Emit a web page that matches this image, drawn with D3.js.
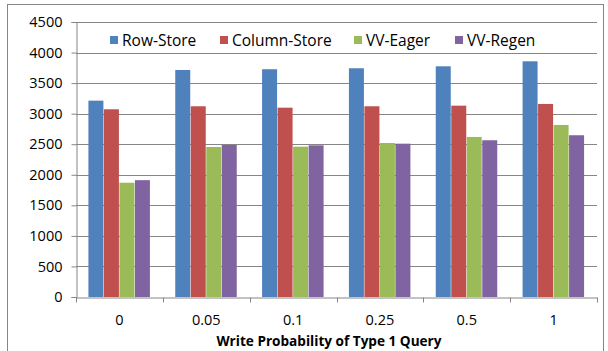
<!DOCTYPE html>
<html>
<head>
<meta charset="utf-8">
<script src="https://d3js.org/d3.v7.min.js"></script>
<style>
  body { margin: 0; background: #fff; }
  text { font-family: "Open Sans", "Liberation Sans", sans-serif; fill: #000; }
</style>
</head>
<body>
<div id="chart"></div>
<script>
const width = 608;
const height = 351;

// data
const categories = ["0", "0.05", "0.1", "0.25", "0.5", "1"];
const seriesNames = ["Row-Store", "Column-Store", "VV-Eager", "VV-Regen"];
const rowStore = [3213, 3715, 3727, 3743, 3775, 3857];
const columnStore = [3072, 3121, 3098, 3121, 3131, 3159];
const vvEager = [1870, 2455, 2460, 2520, 2619, 2815];
const vvRegen = [1912, 2488, 2482, 2509, 2565, 2647];
const yTicks = [0, 500, 1000, 1500, 2000, 2500, 3000, 3500, 4000, 4500];
const colors = ["#4F81BD", "#C0504D", "#9BBB59", "#8064A2"];

const seriesVals = [rowStore, columnStore, vvEager, vvRegen];

const plot = {left: 76, right: 597, top: 22, bottom: 297};

var svg = d3.select("#chart").append("svg")
  .attr("width", width)
  .attr("height", height);

// outer border
svg.append("rect")
  .attr("x", 7.5).attr("y", 4.5)
  .attr("width", 596).attr("height", 350)
  .attr("fill", "none")
  .attr("stroke", "#868686");

var x0 = d3.scaleBand().domain(categories).range([plot.left, plot.right]);
var x1 = d3.scaleBand().domain(seriesNames)
  .range([x0.bandwidth() * 0.143, x0.bandwidth() * 0.857]);
var y = d3.scaleLinear().domain([0, 4500]).range([plot.bottom, plot.top]);

// gridlines
svg.append("g").selectAll("line")
  .data(yTicks.filter(t => t > 0))
  .enter().append("line")
  .attr("x1", plot.left).attr("x2", plot.right)
  .attr("y1", d => Math.round(y(d)) + 0.5)
  .attr("y2", d => Math.round(y(d)) + 0.5)
  .attr("stroke", "#868686");

// bars
var groups = svg.append("g").selectAll("g")
  .data(categories)
  .enter().append("g")
  .attr("transform", d => "translate(" + x0(d) + ",0)");

groups.selectAll("rect")
  .data((d, i) => seriesNames.map((s, j) => ({s: s, v: seriesVals[j][i], c: colors[j]})))
  .enter().append("rect")
  .attr("x", d => x1(d.s))
  .attr("y", d => y(d.v))
  .attr("width", x1.bandwidth() - 0.5)
  .attr("height", d => y(0) - y(d.v))
  .attr("fill", d => d.c);

// y axis
var yAxis = d3.axisLeft(y).tickValues(yTicks).tickFormat(d3.format("d"))
  .tickSize(5).tickPadding(9);
var gy = svg.append("g")
  .attr("transform", "translate(" + (plot.left + 0.5) + ",0)")
  .call(yAxis);
gy.selectAll("text").style("font-size", "14.5px");

// x axis
var xAxis = d3.axisBottom(x0).tickSize(0).tickPadding(17);
var gx = svg.append("g")
  .attr("transform", "translate(0," + (plot.bottom + 0.5) + ")")
  .call(xAxis);
gx.selectAll("text").style("font-size", "14.5px");
// tick marks at category boundaries
gx.selectAll(".sep")
  .data(categories.concat(["end"]))
  .enter().append("line")
  .attr("class", "sep")
  .attr("x1", (d, i) => Math.round(plot.left + i * x0.step()) + 0.5)
  .attr("x2", (d, i) => Math.round(plot.left + i * x0.step()) + 0.5)
  .attr("y1", 0).attr("y2", 5)
  .attr("stroke", "#868686");

svg.selectAll(".domain, .tick line").attr("stroke", "#868686");

// axis title
svg.append("text")
  .attr("x", 329).attr("y", 346)
  .attr("text-anchor", "middle")
  .style("font-size", "13.6px")
  .style("font-weight", "bold")
  .text("Write Probability of Type 1 Query");

// legend
const legendX = [110, 220, 354, 455];
var legend = svg.append("g").selectAll("g")
  .data(seriesNames)
  .enter().append("g")
  .attr("transform", (d, i) => "translate(" + legendX[i] + ",36)");
legend.append("rect")
  .attr("width", 8).attr("height", 8)
  .attr("fill", (d, i) => colors[i]);
legend.append("text")
  .attr("x", 12).attr("y", 9.5)
  .style("font-size", "15.5px")
  .text(d => d);
</script>
</body>
</html>
